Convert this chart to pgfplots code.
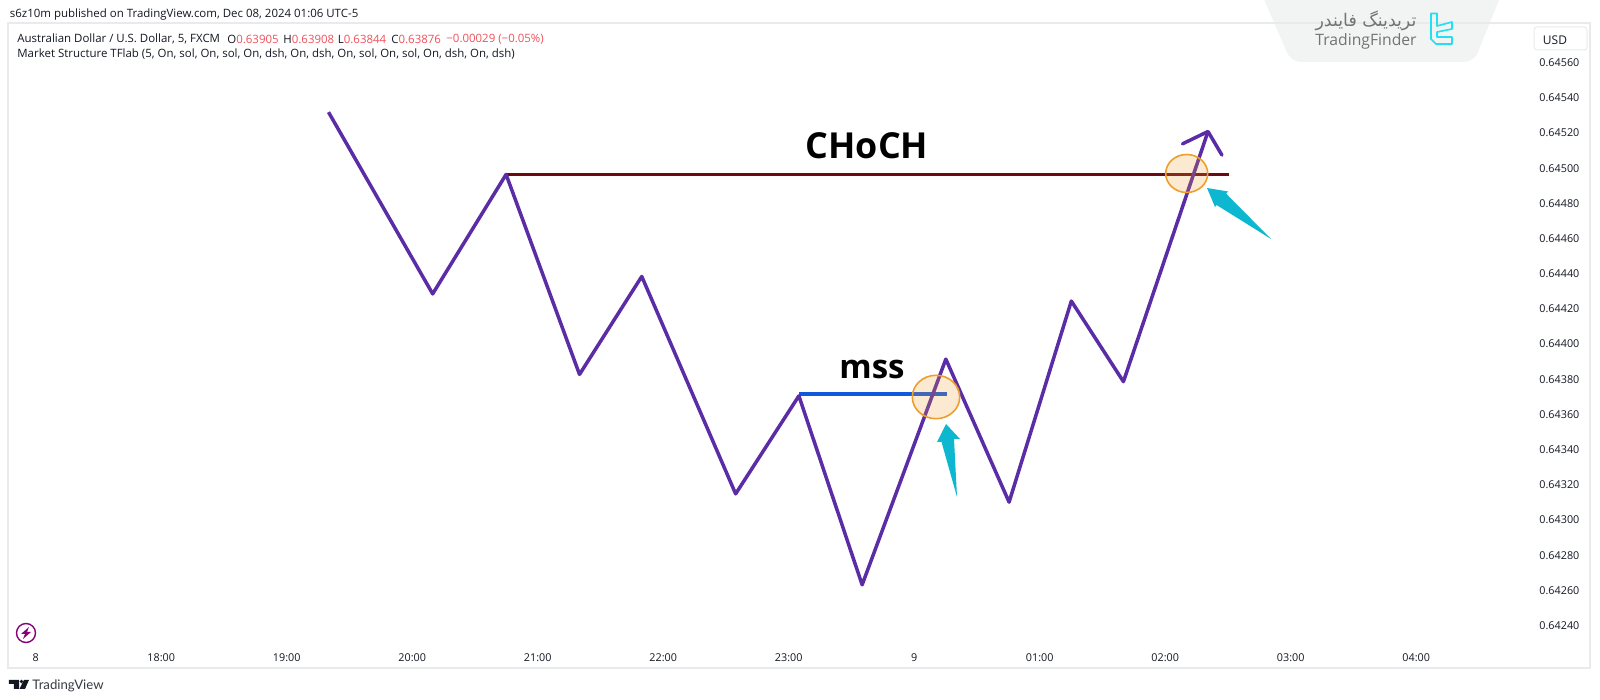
\documentclass[border=0pt]{standalone}
\usepackage{fontspec}
\usepackage{pgfplots}
\pgfplotsset{compat=1.18}
\setmainfont{Open Sans}
\newfontfamily\arabicfont[Script=Arabic]{DejaVu Sans}
\newfontfamily\latofont{Lato}
\TeXXeTstate=1
\definecolor{purp}{HTML}{5A2CA6}
\definecolor{darkred}{HTML}{6C0A12}
\definecolor{mssblue}{HTML}{1258DC}
\definecolor{circ}{HTML}{EE9E2C}
\definecolor{cyanarrow}{HTML}{0DB7D0}
\definecolor{tvgrey}{HTML}{131722}
\definecolor{tvred}{HTML}{F0505A}
\definecolor{framec}{HTML}{E9EAEC}
\definecolor{wm}{HTML}{F2F3F3}
\definecolor{logoc}{HTML}{22E0F0}
\begin{document}
\begin{tikzpicture}
\path[use as bounding box] (-4pt,-16pt) rectangle (796pt,334pt);
% watermark behind the frame
\begin{scope}[x=0.5pt,y=-0.5pt,shift={(-4pt,334pt)}]
\fill[wm,rounded corners=5pt] (1260,-10) -- (1503,-10) -- (1474,62) -- (1291,62) -- cycle;
\end{scope}
\begin{axis}[
    scale only axis,
    width=791pt,
    height=322.5pt,
    xmin=16.779, xmax=29.385,
    ymin=0.642153, ymax=0.64582,
    axis line style={framec,line width=0.6pt},
    major tick length=0pt,
    clip=false,
    xtick={17,18,19,20,21,22,23,24,25,26,27,28},
    xticklabels={8,18:00,19:00,20:00,21:00,22:00,23:00,9,01:00,02:00,03:00,04:00},
    xticklabel style={anchor=center,yshift=5pt,font=\fontsize{5.4}{6}\selectfont,text=tvgrey},
    ytick={0.6424,0.6426,0.6428,0.6430,0.6432,0.6434,0.6436,0.6438,0.6440,0.6442,0.6444,0.6446,0.6448,0.6450,0.6452,0.6454,0.6456},
    yticklabel pos=right,
    yticklabel style={anchor=east,xshift=-1.8pt,yshift=-0.5pt,font=\fontsize{5.4}{6}\selectfont,text=tvgrey,
        /pgf/number format/fixed,/pgf/number format/fixed zerofill,/pgf/number format/precision=5,
        /pgf/number format/assume math mode=true},
    scaled y ticks=false,
]
% CHoCH level
\addplot[darkred,line width=1.5pt,mark=none] coordinates {(20.748,0.644959) (26.512,0.644959)};
% mss level
\addplot[mssblue,line width=1.7pt,mark=none] coordinates {(23.081,0.643711) (24.26,0.643711)};
% price swings
\addplot[purp,line width=1.75pt,mark=none,line join=round] coordinates {
    (19.333,0.645313) (20.163,0.64428) (20.748,0.644959) (21.333,0.643822)
    (21.829,0.644379) (22.577,0.643143) (23.081,0.6437) (23.585,0.642626)
    (24.252,0.643909) (24.756,0.643096) (25.252,0.644239) (25.667,0.643781)
    (26.341,0.645203)
};
% arrow head
\addplot[purp,line width=1.75pt,mark=none,line join=round,line cap=round] coordinates {
    (26.138,0.645133) (26.341,0.645203) (26.452,0.645069)
};
\end{axis}
% everything below is in pixels of the 1600x700 image
\begin{scope}[x=0.5pt,y=-0.5pt,shift={(-4pt,334pt)}]
\filldraw[fill=circ,fill opacity=0.22,draw=circ,line width=0.8pt] (1186.7,173.5) ellipse [x radius=21,y radius=19];
\filldraw[fill=circ,fill opacity=0.22,draw=circ,line width=0.8pt] (936,397) ellipse [x radius=23.7,y radius=21.7];
\fill[cyanarrow] (1207,188) -- (1228,191.5) -- (1226,193.5) -- (1271,239) -- (1216.5,205) -- (1215,207) -- cycle;
\fill[cyanarrow] (946,424) -- (960,439) -- (954,439) -- (957,497) -- (941.5,442) -- (937,442) -- cycle;
\node[font=\fontsize{17.9}{20}\selectfont\bfseries] at (867,146) {CHoCH};
\node[font=\fontsize{16.5}{17}\selectfont\bfseries] at (872,369) {mss};
% header text
\tikzset{t/.style={anchor=west,inner sep=0pt,font=\fontsize{5.73}{6}\selectfont,text=tvgrey}}
\node[t] at (9.5,15) {s6z10m published on TradingView.com, Dec 08, 2024 01:06 UTC-5};
\node[t] at (17,39) {Australian Dollar / U.S. Dollar, 5, FXCM};
\node[t] at (227,39) {O\textcolor{tvred}{0.63905}};
\node[t] at (283,39) {H\textcolor{tvred}{0.63908}};
\node[t] at (337.5,39) {L\textcolor{tvred}{0.63844}};
\node[t] at (391,39) {C\textcolor{tvred}{0.63876}};
\node[t,text=tvred] at (446,39) {−0.00029 (−0.05\%)};
\node[t] at (17,54) {Market Structure TFlab (5, On, sol, On, sol, On, dsh, On, dsh, On, sol, On, sol, On, dsh, On, dsh)};
% currency box
\draw[framec,fill=white,rounded corners=1.5pt,line width=0.5pt] (1534,27) rectangle (1587,50);
\node[font=\fontsize{6}{7}\selectfont,text=tvgrey] at (1555,40) {USD};
% watermark text and logo
\node[font=\fontsize{8.7}{10}\selectfont\arabicfont,text=black!55] at (1366,21) {\beginR تریدینگ فایندر\endR};
\node[font=\fontsize{7.85}{9}\selectfont,text=black!55] at (1366,41) {TradingFinder};
\draw[logoc,line width=0.8pt,line join=round] (1431,13.5) -- (1437,13.5) -- (1437,26) -- (1452,22) -- (1452,29) -- (1437,32) -- (1437,37) -- (1452,37) -- (1452,44) -- (1436,44) -- (1431,39) -- cycle;
% bottom left
\draw[purple!70!blue,line width=0.7pt] (26,633) circle [radius=9.5];
\fill[purple!70!blue] (29,627) -- (21,634) -- (25,634) -- (23,639) -- (31,632) -- (27,632) -- cycle;
\fill[tvgrey] (9,680) -- (19,680) -- (19,689) -- (14,689) -- (14,684) -- (9,684) -- cycle;
\fill[tvgrey] (21.5,681.5) circle [radius=1.8];
\fill[tvgrey] (24,680) -- (29,680) -- (25,689) -- (19.5,689) -- cycle;
\node[anchor=west,inner sep=0pt,font=\fontsize{6.6}{8}\selectfont\latofont,text=tvgrey!85] at (32,686) {TradingView};
\end{scope}
\end{tikzpicture}
\end{document}
